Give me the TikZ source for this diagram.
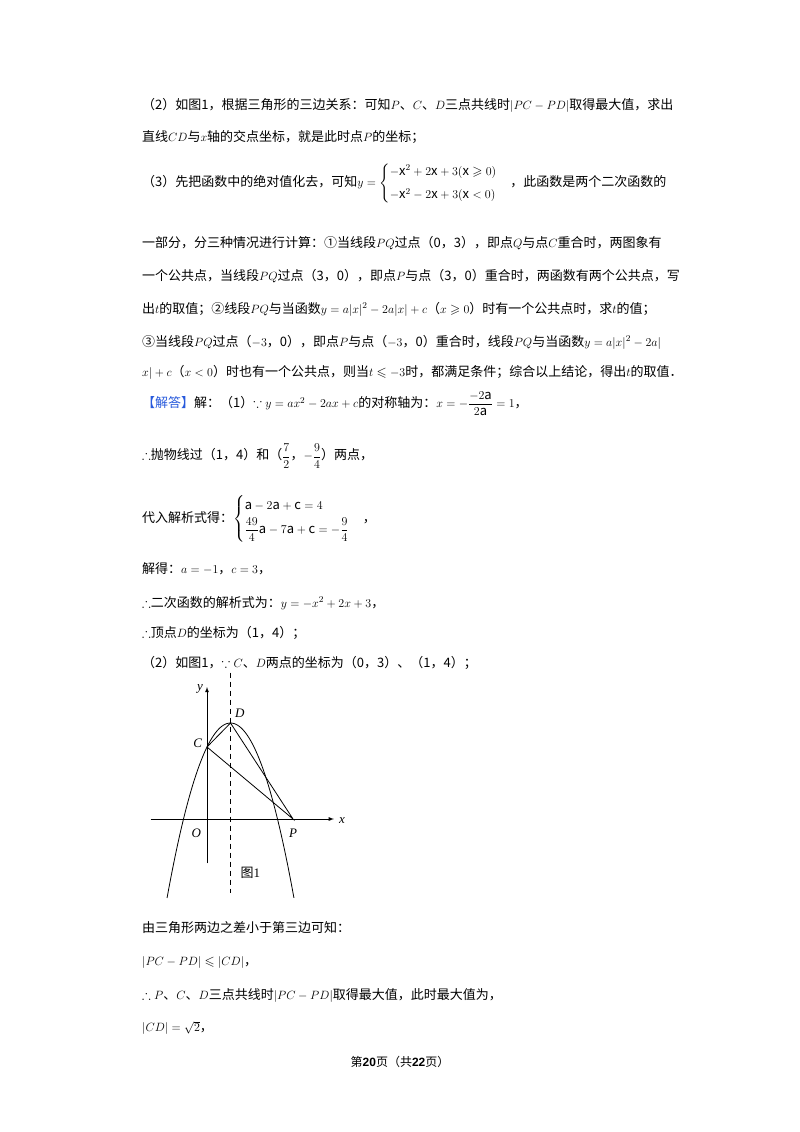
\documentclass[tikz,border=0pt]{standalone}
\usepackage{amsmath,amssymb}
\usepackage{fontspec}
\setmainfont{Noto Sans CJK SC}
\newfontfamily\lat{Liberation Serif}
\newfontfamily\hd{Liberation Sans}
\begin{document}
\begin{tikzpicture}[x=1pt,y=-1pt,
  ln/.style={anchor=west,inner sep=0pt,font=\fontsize{13}{16}\selectfont},
  lab/.style={inner sep=0pt,font=\fontsize{13}{15}\selectfont\lat\itshape},
  curve/.style={line width=0.8pt}]
\useasboundingbox[fill=white] (0,0) rectangle (800,1132);
\node[ln] (l1) at (142,105) {（2）如图1，根据三角形的三边关系：可知$P$、$C$、$D$三点共线时$|PC-PD|$取得最大值，求出};
\node[ln] (l2) at (142,137) {直线$CD$与$x$轴的交点坐标，就是此时点$P$的坐标；};
\node[ln] (l3) at (142,183) {（3）先把函数中的绝对值化去，可知$y=\begin{cases}-\mathrm{x}^2+2\mathrm{x}+3(\mathrm{x}\geqslant0)\\[4pt]-\mathrm{x}^2-2\mathrm{x}+3(\mathrm{x}<0)\end{cases}$，此函数是两个二次函数的};
\node[ln] (l4) at (142,243) {一部分，分三种情况进行计算：①当线段$PQ$过点（0，3），即点$Q$与点$C$重合时，两图象有};
\node[ln] (l5) at (142,276) {一个公共点，当线段$PQ$过点（3，0），即点$P$与点（3，0）重合时，两函数有两个公共点，写};
\node[ln] (l6) at (142,309) {出$t$的取值；②线段$PQ$与当函数$y=a|x|^2-2a|x|+c$（$x\geqslant0$）时有一个公共点时，求$t$的值；};
\node[ln] (l7) at (142,342) {③当线段$PQ$过点（$-3$，0），即点$P$与点（$-3$，0）重合时，线段$PQ$与当函数$y=a|x|^2-2a|$};
\node[ln] (l8) at (142,372) {$x|+c$（$x<0$）时也有一个公共点，则当$t\leqslant-3$时，都满足条件；综合以上结论，得出$t$的取值．};
\node[ln] (l9) at (142,404) {\textcolor[RGB]{40,90,220}{【解答】}解：（1）$\because y=ax^2-2ax+c$的对称轴为：$x=-\dfrac{-2\mathrm{a}}{2\mathrm{a}}=1$，};
\node[ln] (l10) at (142,456) {$\therefore$抛物线过（1，4）和（$\dfrac{7}{2}$，$-\dfrac{9}{4}$）两点，};
\node[ln] (l11) at (142,519) {代入解析式得：$\begin{cases}\mathrm{a}-2\mathrm{a}+\mathrm{c}=4\\[2pt]\dfrac{49}{4}\mathrm{a}-7\mathrm{a}+\mathrm{c}=-\dfrac{9}{4}\end{cases}$，};
\node[ln] (l12) at (142,569) {解得：$a=-1$，$c=3$，};
\node[ln] (l13) at (142,603) {$\therefore$二次函数的解析式为：$y=-x^2+2x+3$，};
\node[ln] (l14) at (142,633) {$\therefore$顶点$D$的坐标为（1，4）；};
\node[ln] (l15) at (142,663) {（2）如图1，$\because C$、$D$两点的坐标为（0，3）、（1，4）；};
\node[ln] (l16) at (142,928) {由三角形两边之差小于第三边可知：};
\node[ln] (l17) at (142,962) {$|PC-PD|\leqslant|CD|$，};
\node[ln] (l18) at (142,996) {$\therefore P$、$C$、$D$三点共线时$|PC-PD|$取得最大值，此时最大值为，};
\node[ln] (l19) at (142,1028) {$|CD|=\sqrt{2}$，};
\node[inner sep=0pt,font=\fontsize{12}{14}\selectfont] (ft) at (400,1062) {第{\hd\bfseries 20}页（共{\hd\bfseries 22}页）};
% figure
\begin{scope}[shift={(207,819)},x=23.5pt,y=24pt]
\coordinate (O) at (0,0);
\coordinate (C) at (0,3);
\coordinate (D) at (1,4);
\coordinate (P) at (3.66,0);
\coordinate (xs) at (-2.4,0); \coordinate (xe) at (5.4,0);
\coordinate (ys) at (0,-1.85); \coordinate (ye) at (0,5.5);
\draw[-latex,curve] (xs) -- (xe);
\draw[-latex,curve] (ys) -- (ye);
\draw[dash pattern=on 5pt off 4pt,line width=0.6pt] (1,6.1) -- (1,-3.1);
\draw[curve,domain=-1.7:3.7,samples=80] plot (\x,{-(\x)*(\x)+2*(\x)+3});
\draw[curve] (C) -- (D) -- (P) -- (C);
\node[lab] (ly) at (-0.3,5.4) {y};
\node[lab] (lx) at (5.75,-0.05) {x};
\node[lab] (lo) at (-0.45,-0.6) {O};
\node[lab] (lp) at (3.66,-0.6) {P};
\node[lab] (lc) at (-0.4,3.15) {C};
\node[lab] (ld) at (1.4,4.4) {D};
\node[inner sep=0pt,font=\fontsize{13}{15}\selectfont] (cap) at (1.85,-2.25) {图{\lat 1}};
\end{scope}
\end{tikzpicture}
\end{document}
